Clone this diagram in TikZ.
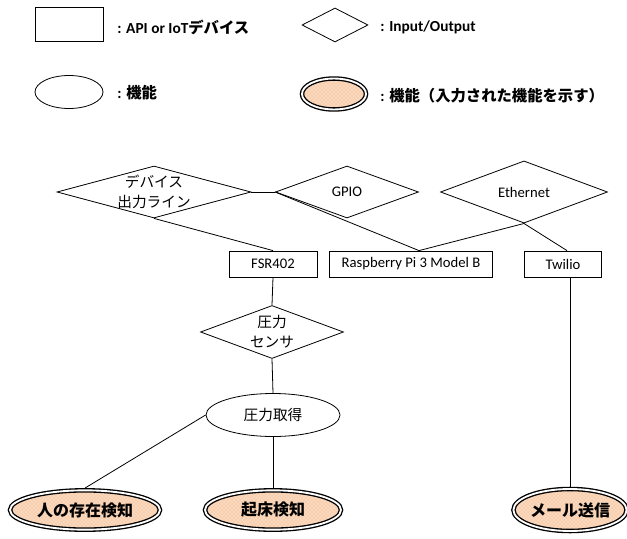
\documentclass[tikz,border=0pt]{standalone}
\usepackage{fontspec}
\setmainfont{Carlito}
\newfontfamily\jp{Noto Sans CJK JP}
\usetikzlibrary{shapes.geometric,patterns}
\definecolor{peach}{RGB}{248,206,172}
\tikzset{
  dev/.style={draw, rectangle, inner sep=0pt, minimum height=19.5pt},
  io/.style={draw, diamond, inner sep=0pt},
  jpn/.style={font=\jp\fontsize{11}{15}\selectfont},
  func/.style={draw, ellipse, inner sep=0pt, jpn},
  infunc/.style={draw, ellipse, inner sep=0pt, line width=3.4pt,
    preaction={fill=peach}, pattern=crosshatch dots, pattern color=white,
    postaction={draw=white, line width=1.4pt},
    font=\jp\bfseries\fontsize{12}{14}\selectfont},
  legtxt/.style={anchor=west, inner sep=0pt, font=\bfseries\fontsize{11.5}{13}\selectfont}
}
\begin{document}
\begin{tikzpicture}[x=0.75pt, y=-0.75pt, line width=0.6pt, font=\fontsize{11}{13}\selectfont]
      \useasboundingbox (0, 0) rectangle (627, 538);
      % legend
      \node[dev, minimum width=51pt, minimum height=25.5pt] (legdev) at (69, 24) {};
      \node[legtxt] (legdevtxt) at (117, 27) {: API or IoT{\jp デバイス}};
      \node[io, minimum width=49.5pt, minimum height=25.5pt] (legio) at (335, 25) {};
      \node[legtxt] (legiotxt) at (380, 27) {: Input/Output};
      \node[func, minimum width=51pt, minimum height=24.75pt] (legfunc) at (69, 92) {};
      \node[legtxt] (legfunctxt) at (117, 93) {: {\jp 機能}};
      \node[infunc, minimum width=48pt, minimum height=23.2pt] (leginfunc) at (334, 94) {};
      \node[legtxt] (leginfunctxt) at (380, 96) {: {\jp 機能（入力された機能を示す）}};
      % devices and io
      \node[io, minimum width=145.5pt, minimum height=39pt,
        label={[jpn, align=center]center:デバイス\\出力ライン}] (out) at (154, 192) {};
      \node[io, minimum width=107.25pt, minimum height=39pt] (gpio) at (347, 192) {GPIO};
      \node[io, minimum width=125.25pt, minimum height=40.5pt] (eth) at (524, 192) {Ethernet};
      \node[dev, minimum width=66pt] (fsr) at (273, 264) {FSR402};
      \node[dev, minimum width=122.25pt] (rpi) at (411, 264) {Raspberry Pi 3 Model B};
      \node[dev, minimum width=57.75pt] (twilio) at (563, 264) {Twilio};
      \node[io, minimum width=107.25pt, minimum height=39.75pt,
        label={[jpn, align=center]center:圧力\\センサ}] (sensor) at (272, 332) {};
      % functions
      \node[func, minimum width=100.5pt, minimum height=32.25pt] (get) at (273, 415) {圧力取得};
      \node[infunc, minimum width=112.5pt, minimum height=29.5pt] (presence) at (85, 510) {人の存在検知};
      \node[infunc, minimum width=102pt, minimum height=29.5pt] (wakeup) at (273, 510) {起床検知};
      \node[infunc, minimum width=82.5pt, minimum height=31.5pt] (mail) at (570, 510) {メール送信};
      \draw (out.east) -- (gpio.west);
      \draw (out.south) -- (fsr.north);
      \draw (gpio.west) -- ([xshift=6pt]rpi.north);
      \draw ([xshift=6pt]rpi.north) -- (eth.south);
      \draw (eth.south) -- ([xshift=3pt]twilio.north);
      \draw (fsr.south) -- (sensor.north);
      \draw (sensor.south) -- (get.north);
      \draw (get.west) -- (presence.north);
      \draw (get.south) -- (wakeup.north);
      \draw (mail.north |- twilio.south) -- (mail.north);
\end{tikzpicture}
\end{document}
